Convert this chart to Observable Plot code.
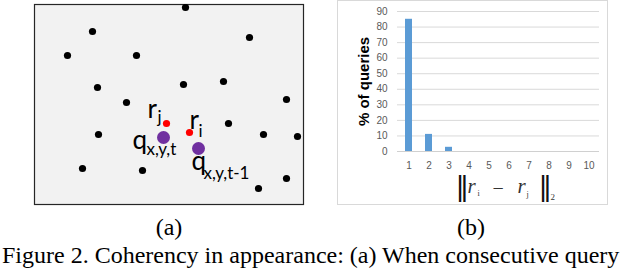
<!DOCTYPE html>
<html><head><meta charset="utf-8">
<script src="https://cdn.jsdelivr.net/npm/d3@7"></script>
<script src="https://cdn.jsdelivr.net/npm/@observablehq/plot@0.6"></script>
<style>
body{margin:0;background:#fff;width:640px;height:270px;overflow:hidden;position:relative;font-family:"Liberation Serif","Times New Roman",serif}
#a{position:absolute;left:33px;top:3px}
#b{position:absolute;left:337px;top:0;width:269px;height:203px;border:1px solid #d9d9d9}
.cap{position:absolute;font-family:"Liberation Serif","Times New Roman",serif;font-size:24px;line-height:24px;white-space:nowrap;color:#000}
</style></head><body>
<div id="a"></div><div id="b"></div>
<div class="cap" style="left:169px;top:215px;transform:translateX(-50%)">(a)</div>
<div class="cap" style="left:471px;top:215px;transform:translateX(-50%)">(b)</div>
<div class="cap" id="fig" style="left:2px;top:243px">Figure 2. Coherency in appearance: (a) When consecutive query</div>
<script>
// ---- panel (a): points of the diagram (x right, y down) ----
const blackX = [151, 58, 215, 33, 102, 63, 149, 189, 252, 92, 194, 64, 229, 263, 48, 108, 224, 252];
const blackY = [3, 27, 33, 51, 51, 83, 80, 77, 95, 98, 119, 130, 130, 132, 164, 166, 184, 174];
const redX = [132, 155];      // r_j, r_i
const redY = [119, 128];
const purpleX = [129, 164];   // q_{x,y,t}, q_{x,y,t-1}
const purpleY = [133, 144];
const mainLabels = ["r", "r", "q", "q"];
const subLabels = ["j", "i", "x,y,t", "x,y,t-1"];

// ---- panel (b): histogram ----
const categories = ["1", "2", "3", "4", "5", "6", "7", "8", "9", "10"];
const percentages = [85, 11, 2.7, 0, 0, 0, 0, 0, 0, 0];
const yTicks = [0, 10, 20, 30, 40, 50, 60, 70, 80, 90];

// fit caption line inside the page width
const fig = document.getElementById("fig");
const w = fig.getBoundingClientRect().width;
if (w > 637) fig.style.fontSize = (24 * 637 / w).toFixed(2) + "px";

const black = blackX.map((x, i) => ({x, y: blackY[i]}));
const red = redX.map((x, i) => ({x, y: redY[i]}));
const purple = purpleX.map((x, i) => ({x, y: purpleY[i]}));

const lf = "Lato, 'Open Sans', sans-serif";
function lab(pt, txt, dx, dy, size) {
  return Plot.text([pt], {x: "x", y: "y", text: () => txt, dx, dy, fontSize: size,
    textAnchor: "start", lineAnchor: "bottom", fill: "#000", fontFamily: lf});
}

const a = Plot.plot({
  width: 271, height: 202, margin: 1,
  x: {domain: [0, 269], axis: null},
  y: {domain: [0, 200], reverse: true, axis: null},
  style: {background: "transparent", overflow: "visible"},
  marks: [
    Plot.frame({fill: "#f2f2f2", stroke: "#262626", strokeWidth: 1.2}),
    Plot.dot(black, {x: "x", y: "y", r: 3.6, fill: "#000", clip: true}),
    Plot.dot(red, {x: "x", y: "y", r: 3.6, fill: "#ff0000"}),
    Plot.dot(purple, {x: "x", y: "y", r: 6.5, fill: "#7030a0"}),
    lab(red[0], mainLabels[0], -19, -6, 26),
    lab(red[0], subLabels[0], -9, -1, 17),
    lab(red[1], mainLabels[1], 0, -4, 26),
    lab(red[1], subLabels[1], 9, 4, 17),
    lab(purple[0], mainLabels[2], -31, 11, 26),
    lab(purple[0], subLabels[2], -17, 17, 17),
    lab(purple[1], mainLabels[3], -7, 21, 26),
    lab(purple[1], subLabels[3], 5, 30, 17)
  ]
});
document.getElementById("a").append(a);

const rows = categories.map((c, i) => ({c, v: percentages[i]}));
function eq(txt, dx, dy, size, opts = {}) {
  return Plot.text([0], {frameAnchor: "bottom-left", text: () => txt, dx, dy, fontSize: size,
    textAnchor: "start", lineAnchor: "bottom", fill: "#333", fontFamily: "'Liberation Serif', 'Times New Roman', serif", ...opts});
}
const sans = "'Liberation Sans', Arial, sans-serif";
const b = Plot.plot({
  width: 269, height: 203, marginLeft: 59, marginRight: 8, marginTop: 10, marginBottom: 53,
  style: {fontFamily: sans, background: "transparent", overflow: "visible"},
  x: {type: "band", domain: categories, paddingInner: 0.65, paddingOuter: 0.3, label: null, axis: null},
  y: {domain: [0, 90], label: null, axis: null},
  marks: [
    Plot.gridY(yTicks.filter(d => d > 0), {stroke: "#d9d9d9", strokeOpacity: 1}),
    Plot.ruleY([0], {stroke: "#d0d0d0"}),
    Plot.barY(rows, {x: "c", y: "v", fill: "#5b9bd5"}),
    Plot.axisY(yTicks, {tickSize: 0, tickPadding: 10, fontSize: 10, color: "#595959", label: null}),
    Plot.axisX({tickSize: 0, tickPadding: 10, fontSize: 10, color: "#595959", label: null}),
    Plot.text(["% of queries"], {frameAnchor: "left", textAnchor: "middle", rotate: -90, dx: -33, fontSize: 15,
      fontWeight: "bold", fill: "#000", fontFamily: sans}),
    eq("\u2016", 58, 43, 27, {fill: "#111", fontFamily: "'DejaVu Sans', sans-serif"}),
    eq("r", 70, 41, 21, {fontStyle: "italic"}),
    eq("i", 80, 44, 8),
    eq("\u2212", 95, 43, 20),
    eq("r", 120, 41, 21, {fontStyle: "italic"}),
    eq("j", 129, 45, 8),
    eq("\u2016", 141, 43, 27, {fill: "#111", fontFamily: "'DejaVu Sans', sans-serif"}),
    eq("2", 153, 48, 9)
  ]
});
document.getElementById("b").append(b);
</script>
</body></html>
